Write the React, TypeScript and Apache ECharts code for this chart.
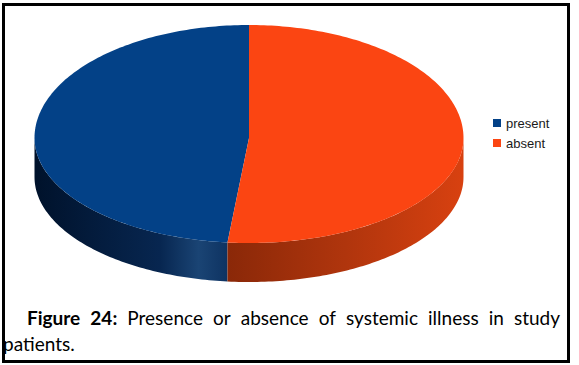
import React, { useEffect, useRef } from "react";
import * as echarts from "echarts";

const categories = ["present", "absent"];
const values = [48.4, 51.6];

const line1Words = [
  { text: "Figure", bold: true },
  { text: "24:", bold: true },
  { text: "Presence", bold: false },
  { text: "or", bold: false },
  { text: "absence", bold: false },
  { text: "of", bold: false },
  { text: "systemic", bold: false },
  { text: "illness", bold: false },
  { text: "in", bold: false },
  { text: "study", bold: false },
];
const line2Text = "patients.";

const topColors = ["#034187", "#fb4512"];
const sideStops = [
  [
    { offset: 0, color: "#00122b" },
    { offset: 0.65, color: "#072650" },
    { offset: 0.85, color: "#1a4474" },
    { offset: 1, color: "#0e3362" },
  ],
  [
    { offset: 0, color: "#8a2808" },
    { offset: 0.5, color: "#b0350d" },
    { offset: 1, color: "#d84110" },
  ],
];

const CX = 249;
const CY = 138;
const RX = 214.5;
const RY_BACK = 113;
const RY_FRONT = 105;
const DEPTH = 39;

const CAP_FONT = "Lato";
const CAP_SIZE = 19;
const LINE1_LEFT = 27;
const LINE1_RIGHT = 560;

function pt(deg: number, dy = 0): number[] {
  const t = (deg * Math.PI) / 180;
  const s = Math.sin(t);
  const ry = s >= 0 ? RY_BACK : RY_FRONT;
  return [CX + RX * Math.cos(t), CY - ry * s + dy];
}

function arc(a0: number, a1: number, dy = 0): number[][] {
  const pts: number[][] = [];
  const n = Math.max(2, Math.ceil(Math.abs(a1 - a0) / 1));
  for (let i = 0; i <= n; i++) pts.push(pt(a0 + ((a1 - a0) * i) / n, dy));
  return pts;
}

function wordStyle(text: string, bold: boolean) {
  return {
    text,
    fontSize: CAP_SIZE,
    fontFamily: CAP_FONT,
    fontWeight: bold ? "bold" : "normal",
    fill: "#000",
    align: "left",
    verticalAlign: "middle",
  };
}

export default function App() {
  const ref = useRef<HTMLDivElement>(null);
  useEffect(() => {
    if (!ref.current) return;
    const chart = echarts.init(ref.current, undefined, { renderer: "svg" });
    const total = values.reduce((a, b) => a + b, 0);

    const renderItem = (params: any, api: any) => {
      const val = api.value(0) as number;
      const idx = api.value(1) as number;
      let before = 0;
      for (let i = 0; i < idx; i++) before += values[i];
      const a0 = 90 + (before / total) * 360;
      const a1 = a0 + (val / total) * 360;
      const children: any[] = [];
      const s = Math.max(a0, 180);
      const e = Math.min(a1, 360);
      if (e > s) {
        const topArc = arc(s, e, 0);
        const botArc = arc(e, s, DEPTH);
        children.push({
          type: "polygon",
          shape: { points: topArc.concat(botArc) },
          style: {
            fill: new echarts.graphic.LinearGradient(0, 0, 1, 0, sideStops[idx]),
          },
        });
      }
      children.push({
        type: "polygon",
        shape: { points: [[CX, CY]].concat(arc(a0, a1, 0)) },
        style: { fill: topColors[idx] },
      });
      return { type: "group", children };
    };

    // justify line 1 between LINE1_LEFT and LINE1_RIGHT
    const widths = line1Words.map((w) => {
      const t = new echarts.graphic.Text({ style: wordStyle(w.text, w.bold) as any });
      return t.getBoundingRect().width;
    });
    const sumW = widths.reduce((a, b) => a + b, 0);
    const gap = (LINE1_RIGHT - LINE1_LEFT - sumW) / (line1Words.length - 1);
    let xPos = LINE1_LEFT;
    const graphics: any[] = line1Words.map((w, i) => {
      const el = {
        type: "text",
        x: xPos,
        y: 317,
        style: wordStyle(w.text, w.bold),
      };
      xPos += widths[i] + gap;
      return el;
    });
    graphics.push({
      type: "text",
      x: 3,
      y: 343,
      style: wordStyle(line2Text, false),
    });
    graphics.push({
      type: "rect",
      z: 100,
      shape: { x: 3.5, y: 4.5, width: 565, height: 357 },
      style: { fill: "none", stroke: "#000", lineWidth: 3 },
    });

    chart.setOption({
      animation: false,
      backgroundColor: "#fff",
      color: topColors,
      legend: {
        orient: "vertical",
        left: 493,
        top: 116,
        padding: 0,
        itemWidth: 8,
        itemHeight: 8,
        itemGap: 6,
        icon: "rect",
        data: categories,
        textStyle: {
          fontSize: 13,
          lineHeight: 14,
          fontFamily: "Liberation Sans",
          color: "#1a1a1a",
        },
      },
      graphic: graphics,
      series: categories.map((name, i) => ({
        type: "custom",
        name,
        coordinateSystem: "none",
        renderItem,
        itemStyle: { color: topColors[i] },
        data: [[values[i], i]],
      })),
    });
    return () => chart.dispose();
  }, []);
  return (
    <div
      ref={ref}
      style={{ position: "fixed", left: 0, top: 0, width: 579, height: 365 }}
    />
  );
}
